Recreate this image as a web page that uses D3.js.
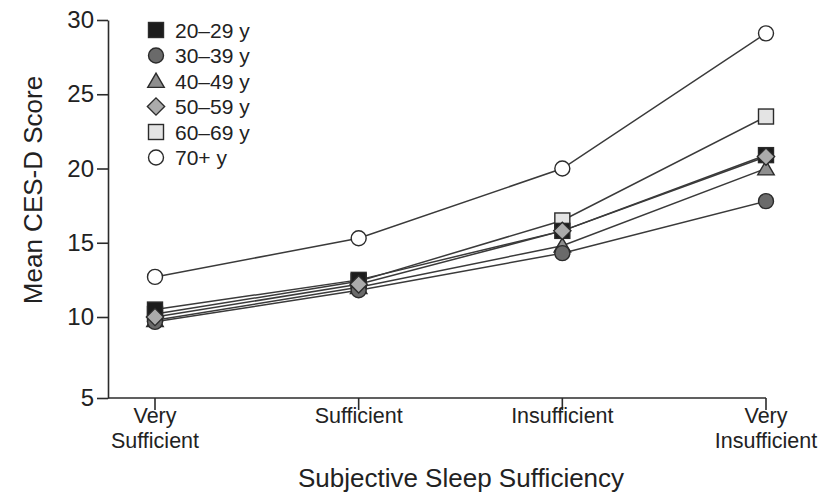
<!DOCTYPE html>
<html>
<head>
<meta charset="utf-8">
<script src="https://cdn.jsdelivr.net/npm/d3@7/dist/d3.min.js"></script>
<style>
  html, body { margin: 0; padding: 0; background: #fff; }
  svg { display: block; font-family: "Liberation Sans", Arial, Helvetica, sans-serif; }
</style>
</head>
<body>
<svg id="chart" width="826" height="493"></svg>
<script>
// Sleep sufficiency categories (x axis)
const categories = ["Very Sufficient", "Sufficient", "Insufficient", "Very Insufficient"];
const categoryLines = [["Very", "Sufficient"], ["Sufficient"], ["Insufficient"], ["Very", "Insufficient"]];

// Age groups
const groups = ["20–29 y", "30–39 y", "40–49 y", "50–59 y", "60–69 y", "70+ y"];

// Mean CES-D score per age group, one value per category
const age20 = [10.5, 12.5, 15.8, 20.9];
const age30 = [9.7, 11.8, 14.3, 17.8];
const age40 = [9.8, 12.0, 14.8, 20.0];
const age50 = [10.0, 12.2, 15.8, 20.8];
const age60 = [10.2, 12.4, 16.5, 23.5];
const age70 = [12.7, 15.3, 20.0, 29.1];

const yTicks = [5, 10, 15, 20, 25, 30];

const seriesValues = [age20, age30, age40, age50, age60, age70];
const markerKind = ["square", "circle", "triangle", "diamond", "square", "circle"];
const markerFill = ["#1c1c1c", "#6a6a6a", "#8e8e8e", "#ababab", "#e4e4e4", "#ffffff"];

const series = groups.map((g, i) => ({
  name: g, values: seriesValues[i], kind: markerKind[i], fill: markerFill[i], idx: i
}));

const svg = d3.select("#chart");
const ink = "#2b2b2b";
const textInk = "#222";

const x = d3.scalePoint().domain(categories).range([155, 766]);
// piecewise scale: the bottom segment of the axis (5 to 10) is drawn a little longer
const y = d3.scaleLinear().domain([5, 10, 30]).range([398, 317, 20]);
const axisLeft = 108;

// Y axis
const yAxis = svg.append("g").attr("transform", `translate(${axisLeft},0)`)
  .call(d3.axisLeft(y).tickValues(yTicks).tickFormat(d3.format("d"))
    .tickSize(11).tickPadding(3).tickSizeOuter(0));
yAxis.select(".domain").attr("stroke", ink).attr("stroke-width", 1.6);
yAxis.selectAll(".tick line").attr("stroke", ink).attr("stroke-width", 1.6);
yAxis.selectAll(".tick text").attr("font-size", 24).attr("fill", textInk)
  .attr("font-family", "Liberation Sans, Arial, sans-serif");

// X axis: baseline from y-axis to last category, with ticks pointing down
const xAxis = svg.append("g").attr("transform", `translate(0,${y(5)})`);
xAxis.append("line")
  .attr("x1", axisLeft).attr("x2", x(categories[categories.length - 1]))
  .attr("stroke", ink).attr("stroke-width", 1.6);
const xt = xAxis.selectAll("g.xtick").data(categories).join("g")
  .attr("class", "xtick").attr("transform", d => `translate(${x(d)},0)`);
xt.append("line").attr("y2", 12).attr("stroke", ink).attr("stroke-width", 1.6);
xt.append("text")
  .attr("text-anchor", "middle").attr("font-size", 21.5).attr("fill", textInk)
  .selectAll("tspan").data((d, i) => categoryLines[i]).join("tspan")
  .attr("x", 0).attr("y", (d, j) => 25 + j * 25).text(d => d);

// Axis titles
svg.append("text")
  .attr("transform", `translate(42,190) rotate(-90)`)
  .attr("text-anchor", "middle").attr("font-size", 26).attr("fill", textInk)
  .text("Mean CES-D Score");
svg.append("text")
  .attr("x", 461).attr("y", 487)
  .attr("text-anchor", "middle").attr("font-size", 26).attr("fill", textInk)
  .text("Subjective Sleep Sufficiency");

// Marker drawing helper
function drawMarker(sel, kind, fill, size) {
  const h = size / 2;
  let m;
  if (kind === "square") {
    m = sel.append("rect").attr("x", -h).attr("y", -h).attr("width", size).attr("height", size);
  } else if (kind === "circle") {
    m = sel.append("circle").attr("r", h);
  } else if (kind === "triangle") {
    m = sel.append("path").attr("d", `M0,${-h * 1.05}L${h * 1.1},${h * 0.85}L${-h * 1.1},${h * 0.85}Z`);
  } else {
    m = sel.append("path").attr("d", `M0,${-h * 1.15}L${h * 1.15},0L0,${h * 1.15}L${-h * 1.15},0Z`);
  }
  m.attr("fill", fill).attr("stroke", ink).attr("stroke-width", 1.4);
}

// Lines
const line = d3.line().x((d, i) => x(categories[i])).y(d => y(d));
svg.append("g").selectAll("path").data(series).join("path")
  .attr("d", d => line(d.values))
  .attr("fill", "none").attr("stroke", "#3a3a3a").attr("stroke-width", 1.5);

// Markers, layered so the overlapping ones stack in this order
const drawOrder = [4, 2, 1, 0, 3, 5];
const mg = svg.append("g");
drawOrder.forEach(si => {
  const s = series[si];
  s.values.forEach((v, i) => {
    const g = mg.append("g").attr("transform", `translate(${x(categories[i])},${y(v)})`);
    drawMarker(g, s.kind, s.fill, 15);
  });
});

// Legend
const legend = svg.append("g").attr("transform", "translate(156,30)");
series.forEach((s, i) => {
  const row = legend.append("g").attr("transform", `translate(0,${i * 25.5})`);
  drawMarker(row, s.kind, s.fill, 15);
  row.append("text").attr("x", 19).attr("y", 7.5).attr("font-size", 21).attr("fill", textInk)
    .text(s.name);
});
</script>
</body>
</html>
